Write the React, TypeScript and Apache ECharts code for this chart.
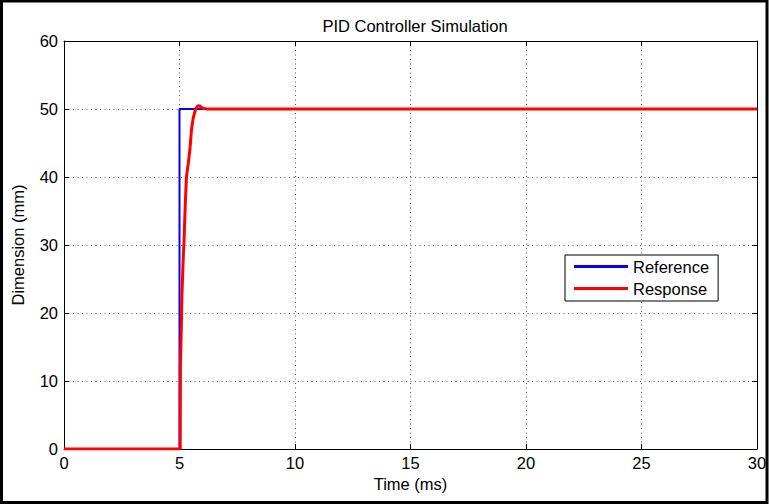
import React, { useEffect, useRef } from "react";
import * as echarts from "echarts";

const refT = [0, 5, 5, 30];
const refV = [0, 0, 50, 50];
const respT = [0, 5.03, 5.04, 5.08, 5.1, 5.15, 5.2, 5.25, 5.3, 5.38, 5.45, 5.52, 5.6, 5.7, 5.8, 5.9, 6.0, 6.2, 30];
const respV = [0, 0, 12.5, 18, 22, 27, 31, 36, 40, 42, 44, 47, 48.8, 50, 50.5, 50.4, 50.1, 50, 50];
const xTicks = [0, 5, 10, 15, 20, 25, 30];
const yTicks = [0, 10, 20, 30, 40, 50, 60];

const FONT = "'Liberation Sans', Arial, sans-serif";
const FS = 16.5;

export default function App() {
  const ref = useRef<HTMLDivElement>(null);
  useEffect(() => {
    document.body.style.margin = "0";
    const chart = echarts.init(ref.current!, null, { renderer: "svg" });
    const gridLine = { show: true, lineStyle: { color: "#555", type: [1, 3.5] as any, width: 1 } };
    const axisCommon = {
      type: "value" as const,
      axisLine: { show: true, onZero: false, lineStyle: { color: "#000", width: 1 } },
      axisTick: { show: true, inside: true, length: 5, lineStyle: { color: "#000" } },
    };
    chart.setOption({
      animation: false,
      backgroundColor: "#fff",
      title: {
        text: "PID Controller Simulation",
        left: 410,
        top: 12,
        textAlign: "center",
        textStyle: { fontFamily: FONT, fontSize: FS, fontWeight: "normal", color: "#000" },
      },
      graphic: [
        {
          type: "rect",
          shape: { x: 1.5, y: 1, width: 765.5, height: 501.5 },
          style: { fill: "none", stroke: "#000", lineWidth: 3 },
          silent: true,
        },
      ],
      legend: {
        left: 565,
        top: 255,
        orient: "vertical",
        itemWidth: 54,
        itemHeight: 3,
        itemGap: 5,
        padding: [3, 9, 4, 9],
        borderColor: "#000",
        borderWidth: 1,
        backgroundColor: "#fff",
        borderRadius: 0,
        icon: "rect",
        textStyle: { fontFamily: FONT, fontSize: FS, color: "#000" },
        data: [
          { name: "Reference", itemStyle: { color: "#0000ff" } },
          { name: "Response", itemStyle: { color: "#ff0000" } },
        ],
      },
      grid: { left: 64, top: 41, right: 13, bottom: 55, outerBoundsMode: "none", containLabel: false } as any,
      xAxis: [
        {
          ...axisCommon,
          min: 0,
          max: 30,
          interval: 5,
          position: "bottom",
          splitLine: gridLine,
          axisLabel: { fontFamily: FONT, fontSize: FS, color: "#000", margin: 5, customValues: xTicks } as any,
          name: "Time (ms)",
          nameLocation: "middle",
          nameGap: 25,
          nameTextStyle: { fontFamily: FONT, fontSize: FS, color: "#000" },
        },
        {
          ...axisCommon,
          min: 0,
          max: 30,
          interval: 5,
          position: "top",
          splitLine: { show: false },
          axisLabel: { show: false },
        },
      ],
      yAxis: [
        {
          ...axisCommon,
          min: 0,
          max: 60,
          interval: 10,
          position: "left",
          splitLine: gridLine,
          axisLabel: { fontFamily: FONT, fontSize: FS, color: "#000", margin: 6, customValues: yTicks } as any,
          name: "Dimension (mm)",
          nameLocation: "middle",
          nameGap: 38,
          nameTextStyle: { fontFamily: FONT, fontSize: FS, color: "#000" },
        },
        {
          ...axisCommon,
          min: 0,
          max: 60,
          interval: 10,
          position: "right",
          splitLine: { show: false },
          axisLabel: { show: false },
        },
      ],
      series: [
        {
          name: "Reference",
          type: "line",
          showSymbol: false,
          symbol: "none",
          data: refT.map((t, i) => [t, refV[i]]),
          lineStyle: { color: "#0000ff", width: 2 },
          itemStyle: { color: "#0000ff" },
          z: 3,
        },
        {
          name: "Response",
          type: "line",
          showSymbol: false,
          symbol: "none",
          data: respT.map((t, i) => [t, respV[i]]),
          lineStyle: { color: "#ff0000", width: 3 },
          itemStyle: { color: "#ff0000" },
          z: 4,
        },
      ],
    });
    return () => chart.dispose();
  }, []);
  return <div ref={ref} style={{ width: 770, height: 504 }} />;
}
